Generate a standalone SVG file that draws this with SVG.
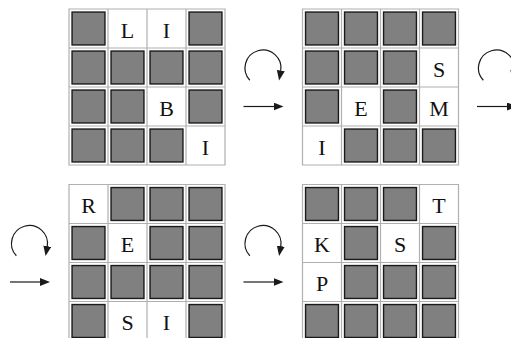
<svg xmlns="http://www.w3.org/2000/svg" width="511" height="338" viewBox="0 0 511 338">
<style>
.bg{fill:#ffffff}
.frame{fill:none;stroke:#b0b0b0;stroke-width:1.2}
.blk{fill:#808080;stroke:#1a1a1a;stroke-width:1.4}
.lt{font-family:"Liberation Serif","DejaVu Serif",serif;font-size:22px;fill:#111111;text-anchor:middle}
.con{fill:none;stroke:#1a1a1a;stroke-width:1.2}
</style>
<defs>
<marker id="ah" markerUnits="userSpaceOnUse" markerWidth="10" markerHeight="8" viewBox="0 0 10 8" refX="0.5" refY="4" orient="auto">
<path d="M0,0 L10,4 L0,8 z" fill="#1a1a1a"/>
</marker>
<g id="gridlines">
<rect class="bg" x="0" y="0" width="156" height="156"/>
<path class="frame" d="M0,0 H156 V156 H0 Z M39,0 V156 M78,0 V156 M117,0 V156 M0,39 H156 M0,78 H156 M0,117 H156"/>
</g>
</defs>
<rect width="511" height="338" fill="#ffffff"/>

<g id="grid1" transform="translate(69,9)">
<use href="#gridlines"/>
<rect class="blk" x="3.05" y="3.05" width="32.9" height="32.9"/>
<rect class="blk" x="120.05" y="3.05" width="32.9" height="32.9"/>
<rect class="blk" x="3.05" y="42.05" width="32.9" height="32.9"/>
<rect class="blk" x="42.05" y="42.05" width="32.9" height="32.9"/>
<rect class="blk" x="81.05" y="42.05" width="32.9" height="32.9"/>
<rect class="blk" x="120.05" y="42.05" width="32.9" height="32.9"/>
<rect class="blk" x="3.05" y="81.05" width="32.9" height="32.9"/>
<rect class="blk" x="42.05" y="81.05" width="32.9" height="32.9"/>
<rect class="blk" x="120.05" y="81.05" width="32.9" height="32.9"/>
<rect class="blk" x="3.05" y="120.05" width="32.9" height="32.9"/>
<rect class="blk" x="42.05" y="120.05" width="32.9" height="32.9"/>
<rect class="blk" x="81.05" y="120.05" width="32.9" height="32.9"/>
<text class="lt" x="58.5" y="28.7">L</text>
<text class="lt" x="97.5" y="28.7">I</text>
<text class="lt" x="97.5" y="106.7">B</text>
<text class="lt" x="136.5" y="145.7">I</text>
</g>

<g id="grid2" transform="translate(302.5,9)">
<use href="#gridlines"/>
<rect class="blk" x="3.05" y="3.05" width="32.9" height="32.9"/>
<rect class="blk" x="42.05" y="3.05" width="32.9" height="32.9"/>
<rect class="blk" x="81.05" y="3.05" width="32.9" height="32.9"/>
<rect class="blk" x="120.05" y="3.05" width="32.9" height="32.9"/>
<rect class="blk" x="3.05" y="42.05" width="32.9" height="32.9"/>
<rect class="blk" x="42.05" y="42.05" width="32.9" height="32.9"/>
<rect class="blk" x="81.05" y="42.05" width="32.9" height="32.9"/>
<rect class="blk" x="3.05" y="81.05" width="32.9" height="32.9"/>
<rect class="blk" x="81.05" y="81.05" width="32.9" height="32.9"/>
<rect class="blk" x="42.05" y="120.05" width="32.9" height="32.9"/>
<rect class="blk" x="81.05" y="120.05" width="32.9" height="32.9"/>
<rect class="blk" x="120.05" y="120.05" width="32.9" height="32.9"/>
<text class="lt" x="136.5" y="67.7">S</text>
<text class="lt" x="58.5" y="106.7">E</text>
<text class="lt" x="136.5" y="106.7">M</text>
<text class="lt" x="19.5" y="145.7">I</text>
</g>

<g id="grid3" transform="translate(69,184.5)">
<use href="#gridlines"/>
<rect class="blk" x="42.05" y="3.05" width="32.9" height="32.9"/>
<rect class="blk" x="81.05" y="3.05" width="32.9" height="32.9"/>
<rect class="blk" x="120.05" y="3.05" width="32.9" height="32.9"/>
<rect class="blk" x="3.05" y="42.05" width="32.9" height="32.9"/>
<rect class="blk" x="81.05" y="42.05" width="32.9" height="32.9"/>
<rect class="blk" x="120.05" y="42.05" width="32.9" height="32.9"/>
<rect class="blk" x="3.05" y="81.05" width="32.9" height="32.9"/>
<rect class="blk" x="42.05" y="81.05" width="32.9" height="32.9"/>
<rect class="blk" x="81.05" y="81.05" width="32.9" height="32.9"/>
<rect class="blk" x="120.05" y="81.05" width="32.9" height="32.9"/>
<rect class="blk" x="3.05" y="120.05" width="32.9" height="32.9"/>
<rect class="blk" x="120.05" y="120.05" width="32.9" height="32.9"/>
<text class="lt" x="19.5" y="28.7">R</text>
<text class="lt" x="58.5" y="67.7">E</text>
<text class="lt" x="58.5" y="145.7">S</text>
<text class="lt" x="97.5" y="145.7">I</text>
</g>

<g id="grid4" transform="translate(302.5,184.5)">
<use href="#gridlines"/>
<rect class="blk" x="3.05" y="3.05" width="32.9" height="32.9"/>
<rect class="blk" x="42.05" y="3.05" width="32.9" height="32.9"/>
<rect class="blk" x="81.05" y="3.05" width="32.9" height="32.9"/>
<rect class="blk" x="42.05" y="42.05" width="32.9" height="32.9"/>
<rect class="blk" x="120.05" y="42.05" width="32.9" height="32.9"/>
<rect class="blk" x="42.05" y="81.05" width="32.9" height="32.9"/>
<rect class="blk" x="81.05" y="81.05" width="32.9" height="32.9"/>
<rect class="blk" x="120.05" y="81.05" width="32.9" height="32.9"/>
<rect class="blk" x="3.05" y="120.05" width="32.9" height="32.9"/>
<rect class="blk" x="42.05" y="120.05" width="32.9" height="32.9"/>
<rect class="blk" x="81.05" y="120.05" width="32.9" height="32.9"/>
<rect class="blk" x="120.05" y="120.05" width="32.9" height="32.9"/>
<text class="lt" x="136.5" y="28.7">T</text>
<text class="lt" x="19.5" y="67.7">K</text>
<text class="lt" x="97.5" y="67.7">S</text>
<text class="lt" x="19.5" y="106.7">P</text>
</g>

<g id="connectors">
<path class="con" marker-end="url(#ah)" d="M243.5,106.5 H274"/>
<path class="con" marker-end="url(#ah)" d="M249.84,80.28 A18,18 0 1 1 280.73,71.13"/>
<path class="con" marker-end="url(#ah)" d="M477,106.5 H507.5"/>
<path class="con" marker-end="url(#ah)" d="M483.34,80.28 A18,18 0 1 1 514.23,71.13"/>
<path class="con" marker-end="url(#ah)" d="M10,282 H40.5"/>
<path class="con" marker-end="url(#ah)" d="M16.34,255.78 A18,18 0 1 1 47.23,246.63"/>
<path class="con" marker-end="url(#ah)" d="M243.5,282 H274"/>
<path class="con" marker-end="url(#ah)" d="M249.84,255.78 A18,18 0 1 1 280.73,246.63"/>
</g>
</svg>
